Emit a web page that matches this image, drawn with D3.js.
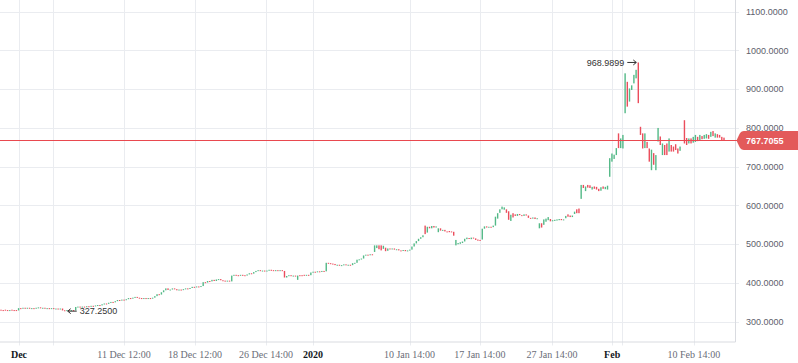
<!DOCTYPE html>
<html>
<head>
<meta charset="utf-8">
<script src="https://cdnjs.cloudflare.com/ajax/libs/d3/7.8.5/d3.min.js"></script>
<style>
body { margin: 0; background: #fff; }
svg { display: block; }
</style>
</head>
<body>
<svg id="chart" width="798" height="363"></svg>
<script>

// candles, [open, close]
var barsDec = [
  [331,329],[330,328],[331,329],[330,328],[329,330],[331,329],[330,328],[330,329],
  [329,335],[335,334],[334,336],[336,335],[335,336],[336,334],[334,335],[335,334],[334,336],[336,337],
  [337,335],[335,336],[336,334],[334,335],[335,334],[334,335],[335,333],[333,334],[334,333],[333,334],
  [334,329],[329.5,327.25],[328,330],[330,329],[329,330],[330,329],
  [329,338],[338,339],[339,337],[337,339],[339,338],[338,340],[340,339],
  [339,341],[341,340],[340,342],[342,343],[343,342],[342,345],[345,347],[347,346],[346,349],
  [349,351],[351,350],[350,353],[353,356],[356,355],[355,357],[357,356],[356,358],
  [358,361],[361,360],[360,362],[362,364],[364,362],[362,361],[361,359],[359,361],[361,360],[360,361],[361,360],[360,362],
  [362,366],[366,371],[371,370],[370,376],[376,381],
  [381,386],[386,382],[382,383],[383,386],[386,384],[384,381],[381,383],[383,382],[382,384],[384,386],[386,385],[385,387],
  [387,390],[390,389],[389,391],[391,390],[390,392],
  [392,402],[402,401],[401,405],[405,404],[404,408],[408,405],[405,409],[409,410],[410,407],
  [407,406],[406,405],[405,406],[406,404],
  [404,419],[419,421],[421,420],[420,419],[419,421],[421,420],[420,419],
  [419,422],[422,425],[425,424],[424,428],[428,431],
  [431,433],[433,431],[431,432],[432,430],[430,432],[432,434],[434,433],[433,431],[431,433],[433,432],[432,433],[433,431],
  [431,414],
  [414,418],[418,420],[420,418],[418,419],[419,417],
  [408,419],
  [420,419],[420,419],[421,420],[420,421],[421,420]
];

var barsJan = [
  [420,427],[427,429],[429,428],[428,430],[430,429],[429,431],[431,430],
  [430,452],
  [452,450],[451,449],[450,449],
  [449,446],[446,447],[447,445],[445,446],[446,448],[448,446],[446,447],[447,446],
  [446,451],[451,452],
  [452,460],[460,461],[461,463],
  [463,471],[471,473],[473,472],[472,474],[474,473],
  [480,497],[490,497],[497,487],[497,484],[488,496],[491,482],
  [483,489],[489,487],[487,489],[489,486],[486,487],[487,484],[484,483],[483,485],[485,482],[482,484],[484,486],
  [486,494],[494,502],[502,508],[508,514],[514,518],[518,523],
  [548,526],
  [530,545],[545,541],[541,547],[547,543],[543,546],
  [531,541],[541,535],[535,537],
  [537,533],[533,532],[534,531],[533,531],
  [532,522],
  [497,511],
  [500,503],[501,505],[503,507],
  [507,514],[513,517],[516,514],[513,517],[517,515],
  [515,511],[512,509],[511,509],
  [512,540],
  [540,546],[546,543],[543,545],[545,544],[544,548],
  [548,571],
  [566,580],[581,590],[590,597],[589,595],
  [590,581],[585,563],[560,576],[580,569],[577,573],[573,578],[578,575],[575,573],[573,577],[577,574],
  [574,568],[568,566],[566,569],[569,565],[565,567],
  [541,554],[554,543],[550,564],
  [558,566],[562,570],[565,559],[559,562],
  [560,563],[561,564],[562,565],[565,562],[562,564],
  [567,573],[577,571],[574,570],[570,574],
  [578,584],[590,580],[592,580],
  [617,653],
  [653,645],[637,649],[653,646],[652,645],[641,648],[649,643],[648,641],[643,637],[638,647],[649,643],[642,648],[641,651]
];

var barsFeb = [
  [674,722],[713,734],[720,731],[730,748],[786,748],[748,773],[747,782],
  [838,941],[919,855],[868,902],[898,910],[915,937],[928,950],[968.9899,864],
  [803,782],[786,747],[748,786],[764,748],[747,713],[691,744],[735,705],[691,730],
  [765,800],[778,756],[730,760],[756,730],[760,730],[739,773],[756,739],[752,739],
  [758,743],[747,734],[741,752],
  null,
  [820,760],[774,756],[760,773],[773,760],[762,777],[764,782],[777,766],[769,782],
  [779,771],[772,782],[773,784],[782,772],[777,790],[792,779],[775,786],[784,775],
  [782,775],[777,768],[775,767.7055]
];

var priceTicks = [300, 400, 500, 600, 700, 800, 900, 1000, 1100];

// time ticks sit at candle index positions
var timeTicks = [
  {i: 8.2,   label: "Dec",          major: true},
  {i: 23.7,  label: "",             major: false},
  {i: 56,    label: "11 Dec 12:00", major: false},
  {i: 88.3,  label: "18 Dec 12:00", major: false},
  {i: 120.6, label: "26 Dec 14:00", major: false},
  {i: 142,   label: "2020",         major: true},
  {i: 185.9, label: "10 Jan 14:00", major: false},
  {i: 217.9, label: "17 Jan 14:00", major: false},
  {i: 250.7, label: "27 Jan 14:00", major: false},
  {i: 278.1, label: "Feb",          major: true},
  {i: 282.5, label: "",             major: false},
  {i: 315.3, label: "10 Feb 14:00", major: false}
];

var lastPrice = 767.7055;

var upColor = "#53b987", downColor = "#eb4d5c";
var gridColor = "#eaecf0", borderColor = "#d9dbe0";
var plotRight = 735, plotBottom = 341.5;

var bars = barsDec.concat(barsJan, barsFeb);
var candles = [];
bars.forEach(function(b, i) {
    if (b) candles.push({i: i, open: b[0], close: b[1]});
});

var svg = d3.select("#chart");

var x = d3.scaleLinear().domain([0, bars.length - 1]).range([1, 724]);
var y = d3.scaleLinear().domain([300, 1100]).range([321.7, 11.7]);

// grid
svg.append("g").selectAll("line.h")
    .data(priceTicks).enter().append("line")
    .attr("x1", 0).attr("x2", plotRight + 4)
    .attr("y1", function(d) { return Math.round(y(d)) + 0.5; })
    .attr("y2", function(d) { return Math.round(y(d)) + 0.5; })
    .style("stroke", gridColor);

svg.append("g").selectAll("line.v")
    .data(timeTicks).enter().append("line")
    .attr("x1", function(d) { return Math.round(x(d.i)) + 0.5; })
    .attr("x2", function(d) { return Math.round(x(d.i)) + 0.5; })
    .attr("y1", 0).attr("y2", plotBottom + 4)
    .style("stroke", gridColor);

// borders
svg.append("line")
    .attr("x1", plotRight + 0.5).attr("x2", plotRight + 0.5)
    .attr("y1", 0).attr("y2", plotBottom + 0.5)
    .style("stroke", borderColor);
svg.append("line")
    .attr("x1", 0).attr("x2", plotRight + 0.5)
    .attr("y1", plotBottom + 0.5).attr("y2", plotBottom + 0.5)
    .style("stroke", borderColor);

// price axis labels
svg.append("g").selectAll("text")
    .data(priceTicks).enter().append("text")
    .attr("x", 746)
    .attr("y", function(d) { return y(d); })
    .attr("dy", "0.35em")
    .style("font-family", "'Liberation Sans', Arial, sans-serif")
    .style("font-size", "9px")
    .style("fill", "#5d606b")
    .text(function(d) { return d.toFixed(4); });

// time axis labels
svg.append("g").selectAll("text")
    .data(timeTicks.filter(function(d) { return d.label; })).enter().append("text")
    .attr("x", function(d) { return x(d.i); })
    .attr("y", 358)
    .attr("text-anchor", "middle")
    .style("font-family", "'Liberation Serif', 'Times New Roman', serif")
    .style("font-size", "10px")
    .style("font-weight", function(d) { return d.major ? "bold" : "normal"; })
    .style("fill", function(d) { return d.major ? "#131722" : "#6a6d78"; })
    .text(function(d) { return d.label; });

// candles
svg.append("g").selectAll("rect")
    .data(candles).enter().append("rect")
    .attr("x", function(d) { return x(d.i) - 0.7; })
    .attr("width", 1.4)
    .attr("y", function(d) { return y(Math.max(d.open, d.close)); })
    .attr("height", function(d) { return Math.max(1, Math.abs(y(d.open) - y(d.close))); })
    .style("fill", function(d) { return d.close >= d.open ? upColor : downColor; });

// last price line and tag
var yLast = Math.round(y(lastPrice)) + 0.5;
svg.append("line")
    .attr("x1", 0).attr("x2", 740)
    .attr("y1", yLast).attr("y2", yLast)
    .style("stroke", "#e9494f");

svg.append("path")
    .attr("d", "M798," + (yLast - 9.5) + " H744 Q741," + (yLast - 9.5) + " 739.5," + (yLast - 6.5) +
               " L736.5," + yLast + " L739.5," + (yLast + 6.5) + " Q741," + (yLast + 9.5) + " 744," + (yLast + 9.5) +
               " H798 Z")
    .style("fill", "#e35a5a");

svg.append("text")
    .attr("x", 746).attr("y", yLast).attr("dy", "0.35em")
    .style("font-family", "'Liberation Sans', Arial, sans-serif")
    .style("font-size", "9px")
    .style("font-weight", "bold")
    .style("fill", "#fff")
    .text(lastPrice.toFixed(4));

// high / low markers
var hiBar = d3.greatest(candles, function(d) { return Math.max(d.open, d.close); });
var loBar = d3.least(candles, function(d) { return Math.min(d.open, d.close); });
var hiVal = Math.max(hiBar.open, hiBar.close), loVal = Math.min(loBar.open, loBar.close);

var hx = x(hiBar.i), hy = y(hiVal);
svg.append("path")
    .attr("d", "M" + (hx - 11) + "," + hy + " H" + (hx - 2) + " M" + (hx - 5) + "," + (hy - 2.5) +
               " L" + (hx - 2) + "," + hy + " L" + (hx - 5) + "," + (hy + 2.5))
    .style("fill", "none").style("stroke", "#333");
svg.append("text")
    .attr("x", hx - 14).attr("y", hy).attr("dy", "0.35em")
    .attr("text-anchor", "end")
    .style("font-family", "'Liberation Sans', Arial, sans-serif")
    .style("font-size", "9px")
    .style("fill", "#333")
    .text(hiVal.toFixed(4));

var lx = x(loBar.i), ly = y(loVal);
svg.append("path")
    .attr("d", "M" + (lx + 12) + "," + ly + " H" + (lx + 3) + " M" + (lx + 6) + "," + (ly - 2.5) +
               " L" + (lx + 3) + "," + ly + " L" + (lx + 6) + "," + (ly + 2.5))
    .style("fill", "none").style("stroke", "#333");
svg.append("text")
    .attr("x", lx + 15).attr("y", ly).attr("dy", "0.35em")
    .style("font-family", "'Liberation Sans', Arial, sans-serif")
    .style("font-size", "9px")
    .style("fill", "#333")
    .text(loVal.toFixed(4));

</script>
</body>
</html>
